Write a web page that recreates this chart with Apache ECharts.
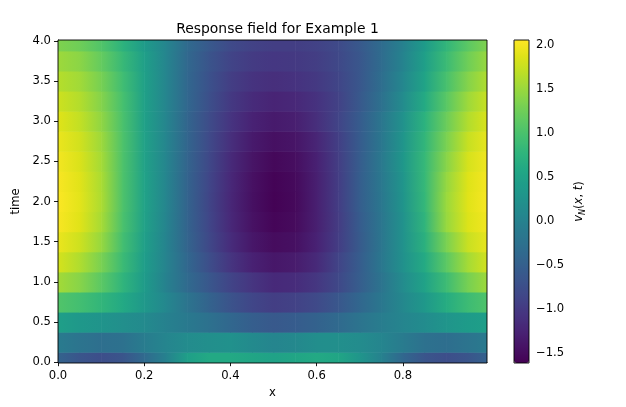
<!DOCTYPE html>
<html>
<head>
<meta charset="utf-8">
<title>Response field for Example 1</title>
<script src="https://cdn.jsdelivr.net/npm/echarts@6/dist/echarts.min.js"></script>
<style>
    html, body { margin: 0; padding: 0; background: #fff; }
    #chart { width: 626px; height: 407px; }
</style>
</head>
<body>
<div id="chart"></div>
<script>
// sample positions
var xs = [0.00, 0.05, 0.10, 0.15, 0.20, 0.25, 0.30, 0.35, 0.40, 0.45, 0.50,
          0.55, 0.60, 0.65, 0.70, 0.75, 0.80, 0.85, 0.90, 0.95, 1.00];
var ts = [0.00, 0.25, 0.50, 0.75, 1.00, 1.25, 1.50, 1.75, 2.00,
          2.25, 2.50, 2.75, 3.00, 3.25, 3.50, 3.75, 4.00];

// v_N(x, t), one row per time in ts, one value per x in xs
var vN = [
    [-0.45, -0.65, -0.75, -0.65, -0.35, 0.00, 0.45, 0.60, 0.60, 0.55, 0.50, 0.55, 0.60, 0.55, 0.30, 0.00, -0.40, -0.65, -0.75, -0.65, -0.45], // t=0
    [-0.10, -0.20, -0.28, -0.25, -0.08, 0.05, 0.15, 0.20, 0.22, 0.12, 0.05, 0.10, 0.18, 0.20, 0.15, 0.05, -0.10, -0.25, -0.30, -0.20, -0.10],
    [0.45, 0.35, 0.28, 0.20, 0.12, 0.00, -0.12, -0.25, -0.40, -0.52, -0.60, -0.55, -0.46, -0.35, -0.20, -0.06, 0.06, 0.16, 0.30, 0.40, 0.45],
    [1.05, 0.95, 0.80, 0.60, 0.35, 0.08, -0.20, -0.45, -0.68, -0.85, -0.95, -0.90, -0.80, -0.62, -0.40, -0.15, 0.10, 0.35, 0.65, 0.90, 1.05],
    [1.55, 1.40, 1.12, 0.78, 0.40, 0.00, -0.35, -0.62, -0.88, -1.05, -1.18, -1.15, -1.03, -0.83, -0.53, -0.20, 0.15, 0.50, 0.90, 1.30, 1.55], // t=1
    [1.82, 1.62, 1.32, 0.88, 0.42, 0.02, -0.40, -0.75, -1.05, -1.27, -1.38, -1.33, -1.17, -0.88, -0.54, -0.15, 0.22, 0.62, 1.12, 1.56, 1.84],
    [1.95, 1.78, 1.48, 0.95, 0.45, 0.03, -0.44, -0.82, -1.15, -1.38, -1.50, -1.46, -1.26, -0.96, -0.56, -0.18, 0.25, 0.72, 1.32, 1.75, 1.95],
    [2.03, 1.88, 1.57, 1.00, 0.48, 0.04, -0.45, -0.85, -1.20, -1.44, -1.57, -1.51, -1.29, -0.97, -0.55, -0.18, 0.25, 0.78, 1.48, 1.86, 2.01],
    [2.05, 1.90, 1.60, 1.02, 0.50, 0.05, -0.45, -0.86, -1.21, -1.46, -1.60, -1.53, -1.29, -0.96, -0.52, -0.15, 0.28, 0.82, 1.50, 1.88, 2.04], // t=2
    [2.03, 1.89, 1.59, 1.02, 0.50, 0.05, -0.45, -0.85, -1.20, -1.45, -1.59, -1.52, -1.29, -0.96, -0.52, -0.14, 0.30, 0.84, 1.47, 1.87, 2.03],
    [2.00, 1.85, 1.56, 1.02, 0.49, 0.05, -0.44, -0.83, -1.17, -1.41, -1.54, -1.48, -1.27, -0.95, -0.54, -0.13, 0.32, 0.84, 1.40, 1.82, 2.00],
    [1.95, 1.80, 1.52, 1.02, 0.48, 0.05, -0.43, -0.80, -1.12, -1.35, -1.46, -1.40, -1.22, -0.93, -0.55, -0.15, 0.30, 0.80, 1.32, 1.74, 1.95],
    [1.88, 1.72, 1.45, 1.00, 0.47, 0.05, -0.42, -0.77, -1.06, -1.26, -1.35, -1.30, -1.12, -0.88, -0.55, -0.18, 0.25, 0.74, 1.22, 1.63, 1.87], // t=3
    [1.78, 1.64, 1.38, 0.97, 0.47, 0.05, -0.40, -0.73, -1.00, -1.16, -1.24, -1.20, -1.08, -0.90, -0.60, -0.25, 0.15, 0.62, 1.10, 1.52, 1.78],
    [1.65, 1.54, 1.30, 0.92, 0.47, 0.05, -0.40, -0.70, -0.95, -1.07, -1.12, -1.08, -1.00, -0.86, -0.62, -0.30, 0.08, 0.52, 0.98, 1.38, 1.65],
    [1.52, 1.42, 1.18, 0.85, 0.45, 0.05, -0.38, -0.66, -0.88, -0.98, -1.02, -1.00, -0.95, -0.83, -0.62, -0.33, 0.03, 0.45, 0.88, 1.25, 1.52],
    [1.35, 1.25, 1.05, 0.75, 0.40, 0.05, -0.35, -0.60, -0.80, -0.90, -0.95, -0.95, -0.90, -0.80, -0.60, -0.33, 0.00, 0.40, 0.80, 1.12, 1.38]  // t=4
];

// tick labels
var xTicks = [0.0, 0.2, 0.4, 0.6, 0.8];
var tTicks = [0.0, 0.5, 1.0, 1.5, 2.0, 2.5, 3.0, 3.5, 4.0];
var cbTicks = [-1.5, -1.0, -0.5, 0.0, 0.5, 1.0, 1.5, 2.0];
var vRange = [-1.61, 2.06];

// viridis
var viridis = ['#440154', '#471365', '#482475', '#463480', '#414487', '#3b528b', '#355f8d',
               '#2f6c8e', '#2a788e', '#25848e', '#21918c', '#1e9c89', '#22a884', '#2fb47c',
               '#44bf70', '#5ec962', '#7ad151', '#9bd93c', '#bddf26', '#dfe318', '#fde725'];

var FONT = 'DejaVu Sans';
var xRange = [0, 0.995];
var tRange = [-0.01, 4.01];
var dt = 0.25;

// one strip per pair of neighbouring samples in a row: [x left, x right, t, v left, v right]
var cells = [];
for (var i = 0; i < ts.length; i++) {
    for (var j = 0; j < xs.length - 1; j++) {
        cells.push([xs[j], xs[j + 1], ts[i], vN[i][j], vN[i][j + 1]]);
    }
}

function fmt(v) {
    return v.toFixed(1).replace('-', '\u2212');
}

function colorOf(v) {
    var f = (v - vRange[0]) / (vRange[1] - vRange[0]);
    return echarts.color.lerp(Math.max(0, Math.min(1, f)), viridis);
}

//每一段画成一个左右渐变的矩形
function renderCell(params, api) {
    var t = api.value(2);
    var p0 = api.coord([api.value(0), t + dt / 2]);
    var p1 = api.coord([api.value(1), t - dt / 2]);
    return {
        type: 'rect',
        shape: { x: p0[0], y: p0[1], width: p1[0] - p0[0] + 0.6, height: p1[1] - p0[1] + 0.6 },
        style: {
            fill: new echarts.graphic.LinearGradient(0, 0, 1, 0, [
                { offset: 0, color: colorOf(api.value(3)) },
                { offset: 1, color: colorOf(api.value(4)) }
            ])
        }
    };
}

var lineStyle = { color: '#000', width: 0.9 };
var labelStyle = { color: '#000', fontFamily: FONT, fontSize: 11.6, formatter: fmt };

var chart = echarts.init(document.getElementById('chart'));
var option = {
    animation: false,
    backgroundColor: '#fff',
    title: {
        text: 'Response field for Example 1',
        left: 272.5,
        top: 17,
        textAlign: 'center',
        textStyle: { fontFamily: FONT, fontSize: 13.9, fontWeight: 'normal', color: '#000' }
    },
    grid: [
        { left: 58, top: 40, width: 429, height: 323, show: true, borderColor: '#000', borderWidth: 0.9, backgroundColor: 'transparent', z: 10 },
        { left: 514, top: 40, width: 15, height: 323, show: true, borderColor: '#000', borderWidth: 0.9, backgroundColor: 'transparent', z: 10 }
    ],
    xAxis: [{
        gridIndex: 0, type: 'value', min: xRange[0], max: xRange[1], position: 'bottom',
        axisLine: { show: true, lineStyle: lineStyle },
        axisTick: { show: true, length: 4, customValues: xTicks, lineStyle: lineStyle },
        axisLabel: Object.assign({ customValues: xTicks, margin: 7 }, labelStyle),
        splitLine: { show: false },
        name: 'x', nameLocation: 'middle', nameGap: 22,
        nameTextStyle: { fontFamily: FONT, fontSize: 11.6, color: '#000' }
    }, {
        gridIndex: 1, type: 'value', show: false
    }],
    yAxis: [{
        gridIndex: 0, type: 'value', min: tRange[0], max: tRange[1], position: 'left',
        axisLine: { show: true, lineStyle: lineStyle },
        axisTick: { show: true, length: 4, customValues: tTicks, lineStyle: lineStyle },
        axisLabel: Object.assign({ customValues: tTicks, margin: 7 }, labelStyle),
        splitLine: { show: false },
        name: 'time', nameLocation: 'middle', nameGap: 24,
        nameTextStyle: { fontFamily: FONT, fontSize: 11.6, color: '#000' }
    }, {
        gridIndex: 1, type: 'value', min: vRange[0], max: vRange[1], position: 'right',
        axisLine: { show: false },
        axisTick: { show: true, length: 4, customValues: cbTicks, lineStyle: lineStyle },
        axisLabel: Object.assign({ customValues: cbTicks, margin: 7 }, labelStyle),
        splitLine: { show: false },
        name: '{i|v}{s|N}{n|(}{i|x}{n|, }{i|t}{n|)}',
        nameLocation: 'middle', nameGap: 42, nameRotate: 90,
        nameTextStyle: {
            fontFamily: FONT, fontSize: 11.6, color: '#000',
            rich: {
                i: { fontFamily: FONT, fontSize: 11.6, fontStyle: 'italic', color: '#000' },
                s: { fontFamily: FONT, fontSize: 8, fontStyle: 'italic', color: '#000', verticalAlign: 'bottom', lineHeight: 16 },
                n: { fontFamily: FONT, fontSize: 11.6, color: '#000' }
            }
        }
    }],
    // 色标
    visualMap: {
        type: 'continuous',
        min: vRange[0], max: vRange[1],
        seriesIndex: [],
        orient: 'vertical',
        left: 514, top: 40,
        itemWidth: 15, itemHeight: 323,
        padding: 0,
        calculable: false,
        hoverLink: false,
        inRange: { color: viridis }
    },
    series: [{
        type: 'custom',
        xAxisIndex: 0, yAxisIndex: 0,
        renderItem: renderCell,
        encode: { x: [0, 1], y: 2 },
        clip: true,
        silent: true,
        data: cells
    }]
};
chart.setOption(option);
</script>
</body>
</html>
